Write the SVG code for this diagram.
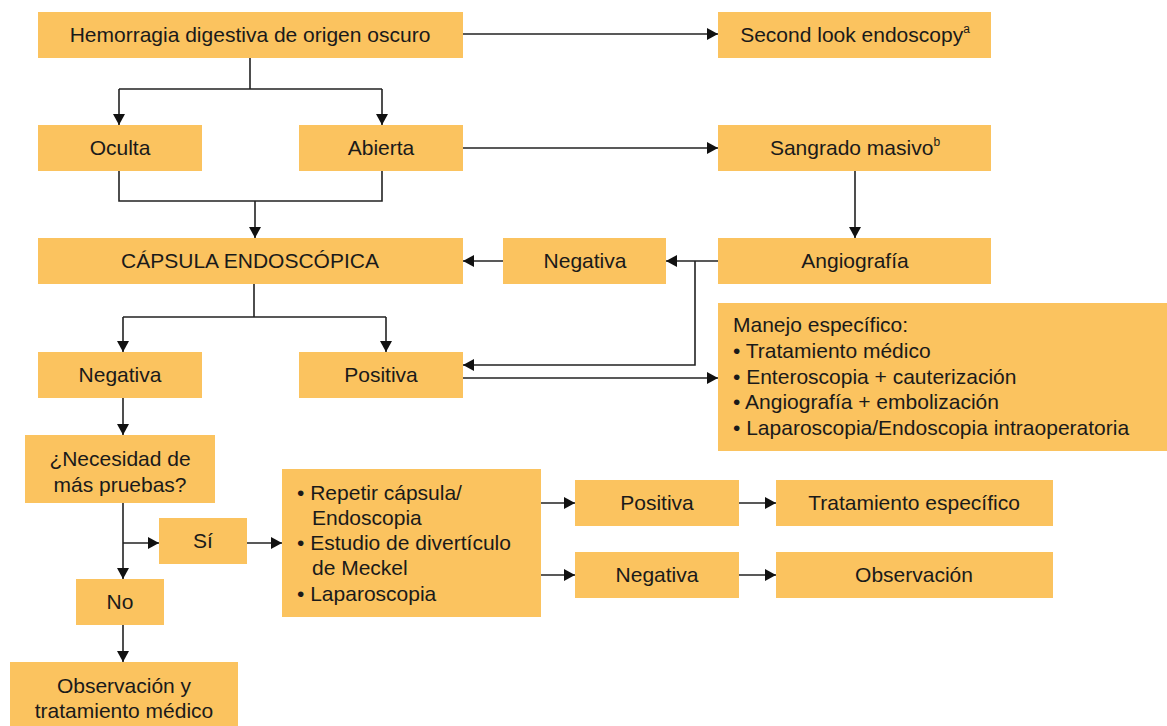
<svg xmlns="http://www.w3.org/2000/svg" width="1167" height="726" viewBox="0 0 1167 726">
<style>
.box{fill:#FBC35F;}
.t{font-family:"Liberation Sans",Arial,sans-serif;font-size:21px;fill:#1a1a1a;}
.c{text-anchor:middle;}
.ln{fill:none;stroke:#222;stroke-width:1.6;}
.ar{marker-end:url(#ah);}
</style>
<defs>
<marker id="ah" markerUnits="userSpaceOnUse" markerWidth="11" markerHeight="12" refX="11" refY="6" orient="auto">
<path d="M0,0 L11,6 L0,12 z" fill="#111"/>
</marker>
</defs>
<rect width="1167" height="726" fill="#fff"/>
<g id="connectors">
<path class="ln ar" d="M463 34 H718"/>
<path class="ln" d="M250 58 V89 M119 89 H382"/>
<path class="ln ar" d="M119 89 V125"/>
<path class="ln ar" d="M382 89 V125"/>
<path class="ln" d="M119 171 V201 H382 V171"/>
<path class="ln ar" d="M255 201 V238"/>
<path class="ln ar" d="M463 148 H718"/>
<path class="ln ar" d="M855 171 V238"/>
<path class="ln ar" d="M718 261 H666"/>
<path class="ln ar" d="M695 261 V365 H463"/>
<path class="ln ar" d="M503 261 H463"/>
<path class="ln" d="M254 284 V317 M123 317 H386"/>
<path class="ln ar" d="M123 317 V352"/>
<path class="ln ar" d="M386 317 V352"/>
<path class="ln ar" d="M463 378 H718"/>
<path class="ln ar" d="M123 398 V435"/>
<path class="ln ar" d="M123 503 V579"/>
<path class="ln ar" d="M123 543 H159"/>
<path class="ln ar" d="M247 543 H282"/>
<path class="ln ar" d="M541 503 H575"/>
<path class="ln ar" d="M541 575 H575"/>
<path class="ln ar" d="M739 503 H776"/>
<path class="ln ar" d="M739 575 H776"/>
<path class="ln ar" d="M123 625 V662"/>
</g>
<g id="n-hemorragia"><rect class="box" x="38" y="12" width="425" height="46"/><text class="t c" x="250" y="42">Hemorragia digestiva de origen oscuro</text></g>
<g id="n-secondlook"><rect class="box" x="718" y="12" width="273" height="46"/><text class="t c" x="855" y="42">Second look endoscopy<tspan font-size="12" dy="-9">a</tspan></text></g>
<g id="n-oculta"><rect class="box" x="38" y="125" width="164" height="46"/><text class="t c" x="120" y="155">Oculta</text></g>
<g id="n-abierta"><rect class="box" x="299" y="125" width="164" height="46"/><text class="t c" x="381" y="155">Abierta</text></g>
<g id="n-sangrado"><rect class="box" x="718" y="125" width="273" height="46"/><text class="t c" x="855" y="155">Sangrado masivo<tspan font-size="12" dy="-9">b</tspan></text></g>
<g id="n-capsula"><rect class="box" x="38" y="238" width="425" height="46"/><text class="t c" x="250" y="268">CÁPSULA ENDOSCÓPICA</text></g>
<g id="n-negativa-angio"><rect class="box" x="503" y="238" width="163" height="46"/><text class="t c" x="585" y="268">Negativa</text></g>
<g id="n-angiografia"><rect class="box" x="718" y="238" width="273" height="46"/><text class="t c" x="855" y="268">Angiografía</text></g>
<g id="n-manejo"><rect class="box" x="718" y="303" width="449" height="148"/>
<text class="t" x="733" y="332">Manejo específico:</text>
<text class="t" x="733" y="358">• Tratamiento médico</text>
<text class="t" x="733" y="384">• Enteroscopia + cauterización</text>
<text class="t" x="733" y="409">• Angiografía + embolización</text>
<text class="t" x="733" y="435">• Laparoscopia/Endoscopia intraoperatoria</text>
</g>
<g id="n-negativa"><rect class="box" x="38" y="352" width="164" height="46"/><text class="t c" x="120" y="382">Negativa</text></g>
<g id="n-positiva"><rect class="box" x="299" y="352" width="164" height="46"/><text class="t c" x="381" y="382">Positiva</text></g>
<g id="n-necesidad"><rect class="box" x="25" y="435" width="190" height="68"/><text class="t c" x="120" y="466">¿Necesidad de</text><text class="t c" x="120" y="492">más pruebas?</text></g>
<g id="n-si"><rect class="box" x="159" y="518" width="88" height="46"/><text class="t c" x="203" y="548">Sí</text></g>
<g id="n-no"><rect class="box" x="76" y="579" width="88" height="46"/><text class="t c" x="120" y="609">No</text></g>
<g id="n-observacion-tto"><rect class="box" x="10" y="662" width="228" height="64"/><text class="t c" x="124" y="693">Observación y</text><text class="t c" x="124" y="718">tratamiento médico</text></g>
<g id="n-repetir"><rect class="box" x="282" y="469" width="259" height="148"/>
<text class="t" x="297" y="500">• Repetir cápsula/</text>
<text class="t" x="312" y="525">Endoscopia</text>
<text class="t" x="297" y="550">• Estudio de divertículo</text>
<text class="t" x="312" y="575">de Meckel</text>
<text class="t" x="297" y="601">• Laparoscopia</text>
</g>
<g id="n-positiva2"><rect class="box" x="575" y="480" width="164" height="46"/><text class="t c" x="657" y="510">Positiva</text></g>
<g id="n-tratamiento"><rect class="box" x="776" y="480" width="277" height="46"/><text class="t c" x="914" y="510">Tratamiento específico</text></g>
<g id="n-negativa2"><rect class="box" x="575" y="552" width="164" height="46"/><text class="t c" x="657" y="582">Negativa</text></g>
<g id="n-observacion"><rect class="box" x="776" y="552" width="277" height="46"/><text class="t c" x="914" y="582">Observación</text></g>
</svg>
